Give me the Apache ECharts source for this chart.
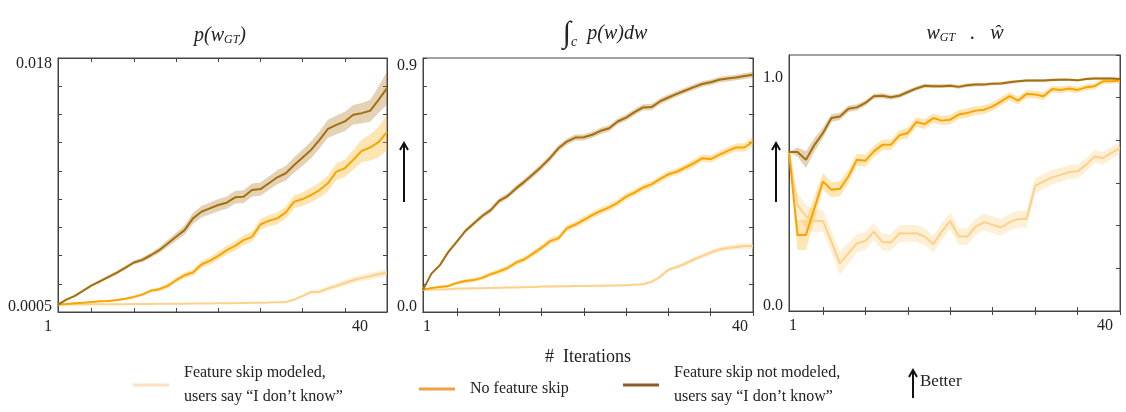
<!DOCTYPE html>
<html>
<head>
<meta charset="utf-8">
<script src="https://cdn.jsdelivr.net/npm/echarts@6/dist/echarts.min.js"></script>
<style>
  html, body { margin: 0; padding: 0; background: #fff; }
  #chart { width: 1126px; height: 412px; }
</style>
</head>
<body>
<div id="chart"></div>
<script>
// iterations 1..40
const iterations = ['1','2','3','4','5','6','7','8','9','10','11','12','13','14','15','16','17','18','19','20',
  '21','22','23','24','25','26','27','28','29','30','31','32','33','34','35','36','37','38','39','40'];

const NAME_PALE = 'Feature skip modeled, users say “I don’t know”';
const NAME_ORANGE = 'No feature skip';
const NAME_DARK = 'Feature skip not modeled, users say “I don’t know”';

// panel 1 : p(w_GT)
const p1Pale = [0.00101,0.00101,0.00102,0.00102,0.00103,0.00103,0.00104,0.00104,0.00104,0.00105,
  0.00105,0.00105,0.00106,0.00106,0.00107,0.00107,0.00108,0.00108,0.00109,0.00110,
  0.00110,0.00111,0.00112,0.00113,0.00114,0.00115,0.00117,0.00119,0.00135,0.00161,
  0.00188,0.00190,0.00211,0.00230,0.00250,0.00269,0.00285,0.00296,0.00310,0.00322];
const p1PaleSd = [0.00003,0.00003,0.00003,0.00003,0.00003,0.00003,0.00003,0.00003,0.00003,0.00003,
  0.00003,0.00003,0.00003,0.00003,0.00003,0.00003,0.00003,0.00003,0.00003,0.00003,
  0.00003,0.00003,0.00003,0.00003,0.00003,0.00003,0.00004,0.00006,0.00008,0.0001,
  0.00012,0.00014,0.00016,0.00018,0.0002,0.00021,0.00022,0.00023,0.00024,0.00025];
const p1Orange = [0.00101,0.00105,0.00110,0.00114,0.00119,0.00124,0.00126,0.00133,0.00142,0.00154,
  0.00170,0.00197,0.00207,0.00230,0.00269,0.00303,0.00322,0.00377,0.00402,0.00437,
  0.00476,0.00506,0.00545,0.00568,0.00653,0.00679,0.00695,0.00736,0.00810,0.00828,
  0.00856,0.00890,0.00937,0.01017,0.01040,0.01098,0.01160,0.01183,0.01220,0.01289];
const p1OrangeSd = [0.00003,0.00003,0.00004,0.00004,0.00005,0.00005,0.00006,0.00007,0.00008,0.00009,
  0.0001,0.00012,0.00014,0.00016,0.00018,0.0002,0.00022,0.00025,0.00027,0.00029,
  0.00031,0.00033,0.00035,0.00036,0.00037,0.00039,0.00041,0.00043,0.00045,0.00047,
  0.0005,0.00053,0.00056,0.00058,0.0006,0.00068,0.00078,0.0009,0.00105,0.00125];
const p1Dark = [0.00101,0.00135,0.00161,0.00197,0.00234,0.00262,0.00292,0.00322,0.00356,0.00391,
  0.00409,0.00441,0.00476,0.00522,0.00568,0.00614,0.00695,0.00741,0.00764,0.00787,
  0.00803,0.00840,0.00844,0.00890,0.00897,0.00937,0.00978,0.01006,0.01063,0.01114,
  0.01167,0.01236,0.01312,0.01339,0.01363,0.01409,0.01420,0.01436,0.01512,0.01593];
const p1DarkSd = [0.00005,0.00006,0.00007,0.00008,0.00009,0.0001,0.00011,0.00012,0.00013,0.00014,
  0.00016,0.00018,0.0002,0.00024,0.00028,0.00032,0.00038,0.0004,0.00041,0.00042,
  0.00042,0.00043,0.00044,0.00045,0.00046,0.00047,0.00048,0.0005,0.00053,0.00056,
  0.00058,0.0006,0.00062,0.00064,0.00066,0.00068,0.0007,0.00075,0.0009,0.00115];

// panel 2 : integral of p(w)
const p2Pale = [0.079,0.080,0.080,0.081,0.083,0.083,0.084,0.084,0.085,0.086,
  0.087,0.087,0.088,0.089,0.090,0.090,0.091,0.091,0.092,0.092,
  0.093,0.093,0.094,0.094,0.095,0.097,0.098,0.107,0.124,0.150,
  0.159,0.172,0.186,0.198,0.211,0.221,0.227,0.230,0.234,0.234];
const p2PaleSd = [0.003,0.003,0.003,0.003,0.003,0.003,0.003,0.003,0.003,0.003,
  0.003,0.003,0.003,0.003,0.003,0.003,0.003,0.003,0.003,0.003,
  0.003,0.003,0.003,0.003,0.003,0.004,0.004,0.005,0.006,0.007,
  0.007,0.008,0.008,0.008,0.009,0.009,0.009,0.01,0.01,0.01];
const p2Orange = [0.079,0.085,0.089,0.092,0.103,0.110,0.113,0.121,0.134,0.144,
  0.156,0.175,0.187,0.207,0.227,0.251,0.261,0.296,0.310,0.326,
  0.343,0.358,0.371,0.387,0.409,0.423,0.441,0.452,0.471,0.488,
  0.497,0.512,0.527,0.545,0.542,0.557,0.571,0.583,0.583,0.604];
const p2OrangeSd = [0.002,0.003,0.004,0.005,0.006,0.007,0.007,0.008,0.008,0.009,
  0.009,0.01,0.01,0.01,0.011,0.011,0.011,0.011,0.011,0.012,
  0.012,0.012,0.012,0.012,0.012,0.012,0.012,0.012,0.012,0.012,
  0.012,0.012,0.013,0.013,0.013,0.013,0.014,0.014,0.015,0.016];
const p2Dark = [0.079,0.136,0.166,0.213,0.249,0.287,0.314,0.340,0.361,0.394,
  0.411,0.438,0.462,0.488,0.515,0.545,0.580,0.604,0.618,0.619,
  0.628,0.642,0.651,0.675,0.689,0.708,0.725,0.726,0.746,0.760,
  0.773,0.785,0.797,0.808,0.814,0.823,0.827,0.831,0.836,0.841];
const p2DarkSd = [0.003,0.004,0.005,0.006,0.007,0.008,0.008,0.009,0.009,0.01,
  0.01,0.01,0.01,0.011,0.011,0.011,0.011,0.011,0.011,0.011,
  0.011,0.011,0.011,0.011,0.011,0.011,0.011,0.011,0.011,0.011,
  0.01,0.01,0.01,0.01,0.01,0.01,0.01,0.01,0.01,0.01];

// panel 3 : w_GT . w_hat
const p3Pale = [0.683,0.456,0.406,0.387,0.387,0.298,0.205,0.248,0.291,0.301,
  0.341,0.296,0.294,0.334,0.333,0.334,0.320,0.287,0.341,0.387,
  0.320,0.320,0.363,0.382,0.370,0.359,0.382,0.395,0.395,0.538,
  0.557,0.574,0.585,0.597,0.600,0.628,0.664,0.657,0.679,0.700];
const p3PaleSd = [0.0,0.05,0.05,0.05,0.047,0.047,0.05,0.045,0.04,0.038,
  0.037,0.036,0.036,0.036,0.036,0.036,0.036,0.036,0.036,0.036,
  0.036,0.036,0.036,0.036,0.036,0.036,0.036,0.036,0.036,0.034,
  0.032,0.032,0.031,0.03,0.03,0.029,0.028,0.027,0.026,0.025];
const p3Orange = [0.683,0.327,0.327,0.442,0.557,0.521,0.525,0.578,0.650,0.646,
  0.686,0.714,0.714,0.755,0.765,0.812,0.803,0.829,0.818,0.822,
  0.844,0.851,0.861,0.865,0.879,0.901,0.923,0.904,0.933,0.930,
  0.923,0.954,0.950,0.956,0.950,0.961,0.966,0.987,0.987,0.990];
const p3OrangeSd = [0.0,0.065,0.065,0.05,0.036,0.032,0.032,0.029,0.026,0.025,
  0.024,0.023,0.022,0.022,0.022,0.021,0.021,0.02,0.02,0.02,
  0.02,0.02,0.019,0.019,0.018,0.018,0.018,0.017,0.017,0.017,
  0.016,0.015,0.015,0.014,0.014,0.013,0.013,0.012,0.011,0.011];
const p3Dark = [0.683,0.683,0.650,0.714,0.765,0.829,0.836,0.869,0.875,0.894,
  0.923,0.925,0.918,0.925,0.941,0.956,0.968,0.966,0.966,0.968,
  0.963,0.970,0.973,0.973,0.977,0.978,0.983,0.987,0.990,0.990,
  0.990,0.993,0.994,0.994,0.991,0.997,0.999,0.999,0.999,0.997];
const p3DarkSd = [0.0,0.02,0.036,0.029,0.022,0.017,0.015,0.014,0.013,0.012,
  0.011,0.011,0.01,0.01,0.01,0.009,0.009,0.009,0.008,0.008,
  0.008,0.008,0.008,0.007,0.007,0.007,0.007,0.006,0.006,0.006,
  0.006,0.006,0.006,0.005,0.005,0.005,0.005,0.005,0.005,0.005];

// y ticks / labels
const p1YTicks = [0.0005,0.002444,0.004389,0.006333,0.008278,0.010222,0.012167,0.014111,0.016056,0.018];
const p1YLabels = [0.0005, 0.018];
const p2YTicks = [0,0.1,0.2,0.3,0.4,0.5,0.6,0.7,0.8,0.9];
const p2YLabels = [0.0, 0.9];
const p3YTicks = [0,0.18333,0.36667,0.55,0.73333,0.91667,1.1];
const p3YLabels = [0.0, 1.0];

const FONT = 'Liberation Serif';
const INK = '#222';
const FRAME = '#444';

const colors = {
  pale:   { line: '#fdd189', band: 'rgba(253,205,130,0.32)', legend: '#fde1c2' },
  orange: { line: '#f9a400', band: 'rgba(250,176,20,0.32)', legend: '#eea043' },
  dark:   { line: '#a66f0e', band: 'rgba(170,115,25,0.32)', legend: '#8c5b27' }
};

const grids = [
  { left: 58, top: 58, width: 329, height: 254 },
  { left: 423, top: 58, width: 330, height: 254 },
  { left: 789, top: 55, width: 331, height: 256 }
];

// label nudges to follow the original's placement of end labels
const xShift = [
  { a: [0, 20, 0, 0], b: [0, 54, 0, 0] },
  { a: [0, 0, 0, 8], b: [0, 26, 0, 0] },
  { a: [0, 0, 0, 8], b: [0, 30, 0, 0] }
];
const yShift = [
  { lo: [0, 0, 10, 0], hi: [12, 0, 0, 0] },
  { lo: [0, 0, 10, 0], hi: [16, 0, 0, 0] },
  { lo: [0, 0, 10, 0], hi: [0, 0, 0, 0] }
];
const yRange = [[0.0005, 0.018], [0, 0.9], [0, 1.1]];
const yTicks = [p1YTicks, p2YTicks, p3YTicks];
const yLabels = [p1YLabels, p2YLabels, p3YLabels];
const yDigits = [
  v => (v < 0.001 ? '0.0005' : '0.018'),
  v => v.toFixed(1),
  v => v.toFixed(1)
];

const xAxes = [], yAxes = [], series = [];

grids.forEach((g, p) => {
  const tickEvery5 = { show: true, inside: true, length: 4, interval: i => i % 5 === 4, lineStyle: { color: FRAME } };
  xAxes.push({
    type: 'category', gridIndex: p, data: iterations, boundaryGap: false, position: 'bottom',
    axisLine: { lineStyle: { color: FRAME, width: 1 } },
    axisTick: tickEvery5,
    axisLabel: {
      interval: i => i === 0 || i === 39,
      margin: 7,
      formatter: v => (v === '1' ? '{a|1}' : '{b|40}'),
      rich: {
        a: { fontFamily: FONT, fontSize: 16, color: INK, padding: xShift[p].a },
        b: { fontFamily: FONT, fontSize: 16, color: INK, padding: xShift[p].b }
      }
    },
    splitLine: { show: false },
    name: p === 1 ? '#  Iterations' : '',
    nameLocation: 'middle',
    nameGap: 36,
    nameTextStyle: { fontFamily: FONT, fontSize: 18, color: INK }
  });
  xAxes.push({
    type: 'category', gridIndex: p, data: iterations, boundaryGap: false, position: 'top',
    axisLine: { lineStyle: { color: FRAME, width: 1 } },
    axisTick: tickEvery5,
    axisLabel: { show: false },
    splitLine: { show: false }
  });
  yAxes.push({
    type: 'value', gridIndex: p, position: 'left', min: yRange[p][0], max: yRange[p][1],
    axisLine: { show: true, lineStyle: { color: FRAME, width: 1 } },
    axisTick: { show: p !== 2, inside: true, length: 4, customValues: yTicks[p], lineStyle: { color: FRAME } },
    axisLabel: {
      customValues: yLabels[p],
      margin: 6,
      formatter: v => (v === yLabels[p][0] ? '{lo|' : '{hi|') + yDigits[p](v) + '}',
      rich: {
        lo: { fontFamily: FONT, fontSize: 16, color: INK, padding: yShift[p].lo },
        hi: { fontFamily: FONT, fontSize: 16, color: INK, padding: yShift[p].hi }
      }
    },
    splitLine: { show: false }
  });
  yAxes.push({
    type: 'value', gridIndex: p, position: 'right', min: yRange[p][0], max: yRange[p][1],
    axisLine: { show: true, lineStyle: { color: FRAME, width: 1 } },
    axisTick: { show: true, inside: true, length: 4, customValues: yTicks[p], lineStyle: { color: FRAME } },
    axisLabel: { show: false },
    splitLine: { show: false }
  });
});

function addGroup(p, name, mean, sd, c) {
  const key = 'band' + p + name;
  const lower = mean.map((m, i) => m - sd[i]);
  const width = sd.map(s => 2 * s);
  const base = { type: 'line', xAxisIndex: 2 * p, yAxisIndex: 2 * p, symbol: 'none', silent: true };
  series.push(Object.assign({}, base, {
    name: key + 'lo', stack: key, data: lower, lineStyle: { opacity: 0 }
  }));
  series.push(Object.assign({}, base, {
    name: key + 'w', stack: key, data: width, lineStyle: { opacity: 0 },
    areaStyle: { color: c.band, opacity: 1 }
  }));
  series.push(Object.assign({}, base, {
    name: name, data: mean,
    lineStyle: { color: c.line, width: 2 },
    itemStyle: { color: c.line }
  }));
}

const panelData = [
  [p1Pale, p1PaleSd, p1Orange, p1OrangeSd, p1Dark, p1DarkSd],
  [p2Pale, p2PaleSd, p2Orange, p2OrangeSd, p2Dark, p2DarkSd],
  [p3Pale, p3PaleSd, p3Orange, p3OrangeSd, p3Dark, p3DarkSd]
];
panelData.forEach((d, p) => {
  addGroup(p, NAME_PALE, d[0], d[1], colors.pale);
  addGroup(p, NAME_ORANGE, d[2], d[3], colors.orange);
  addGroup(p, NAME_DARK, d[4], d[5], colors.dark);
});

const legendText = { fontFamily: FONT, fontSize: 16, color: INK, lineHeight: 24, padding: [0, 0, 0, 10] };
function legendFor(name, col, left, top) {
  return {
    left: left, top: top, padding: 0, icon: 'rect', itemWidth: 36, itemHeight: 3,
    selectedMode: false,
    data: [{ name: name, itemStyle: { color: col } }],
    formatter: n => n.replace(', ', ',\n'),
    textStyle: legendText
  };
}

const titleRich = {
  i: { fontFamily: FONT, fontStyle: 'italic', fontWeight: 'normal', fontSize: 20, color: INK },
  s: { fontFamily: FONT, fontStyle: 'italic', fontWeight: 'normal', fontSize: 12, color: INK, padding: [9, 0, 0, 0] },
  n: { fontFamily: FONT, fontWeight: 'normal', fontSize: 30, color: INK },
  c: { fontFamily: FONT, fontStyle: 'italic', fontWeight: 'normal', fontSize: 14, color: INK, padding: [16, 0, 0, 0] }
};

function arrow(x, y0, y1) {
  return {
    type: 'group',
    children: [
      { type: 'line', shape: { x1: x, y1: y0, x2: x, y2: y1 + 1 }, style: { stroke: '#111', lineWidth: 2 } },
      { type: 'polyline', shape: { points: [[x - 4, y1 + 7], [x, y1], [x + 4, y1 + 7]] }, style: { stroke: '#111', lineWidth: 2, fill: null } }
    ]
  };
}

const option = {
  animation: false,
  backgroundColor: '#fff',
  grid: grids.map(g => Object.assign({ show: true, borderColor: FRAME, borderWidth: 1, backgroundColor: 'transparent' }, g)),
  title: [
    { text: '{i|p(w}{s|GT}{i|)}', left: 215, top: 20, textAlign: 'center', textStyle: { fontWeight: 'normal', rich: titleRich } },
    { text: '{n|∫}{c|c}{i|  p(w)dw}', left: 600, top: 14, textAlign: 'center', textStyle: { fontWeight: 'normal', rich: titleRich } },
    { text: '{i|w}{s|GT}{i|   .   ŵ}', left: 960, top: 18, textAlign: 'center', textStyle: { fontWeight: 'normal', rich: titleRich } }
  ],
  legend: [
    legendFor(NAME_PALE, colors.pale.legend, 133, 361),
    legendFor(NAME_ORANGE, colors.orange.legend, 419, 377),
    legendFor(NAME_DARK, colors.dark.legend, 623, 361)
  ],
  xAxis: xAxes,
  yAxis: yAxes,
  series: series,
  graphic: [
    arrow(404, 202, 143),
    arrow(776, 202, 143),
    arrow(913, 398, 370),
    { type: 'text', left: 920, top: 373, style: { text: 'Better', fontFamily: FONT, fontSize: 17, fill: INK } }
  ]
};

const chart = echarts.init(document.getElementById('chart'), null, { renderer: 'canvas' });
chart.setOption(option);
</script>
</body>
</html>
